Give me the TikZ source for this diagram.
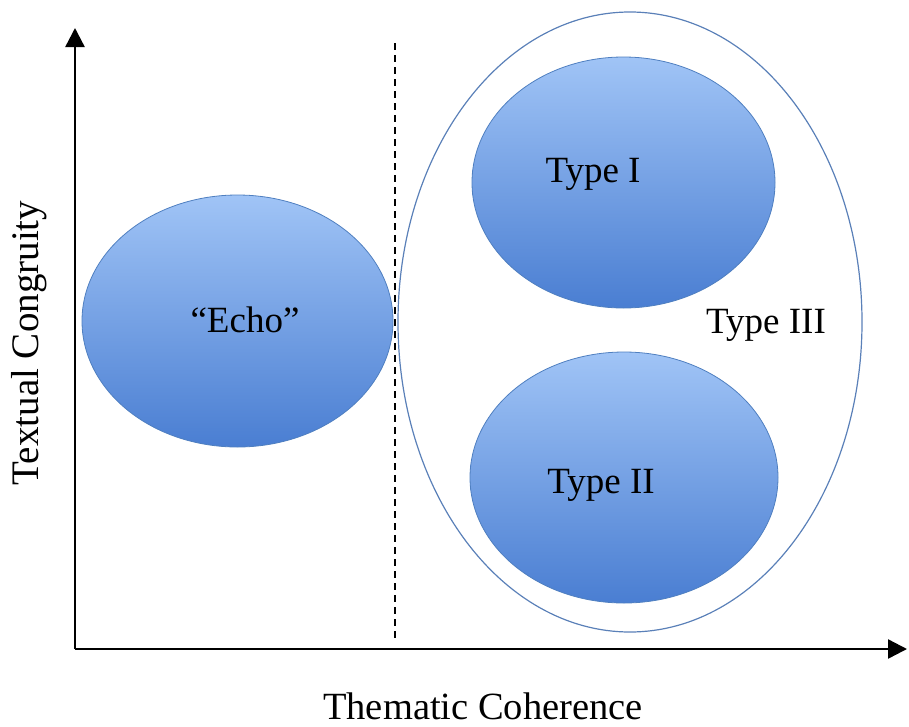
\documentclass[tikz,border=0pt]{standalone}
\usepackage{fontspec}
\setmainfont{Liberation Serif}
\usetikzlibrary{arrows.meta,shapes.geometric}
\definecolor{blobtop}{HTML}{A0C4F6}
\definecolor{blobbot}{HTML}{4A7ED2}
\definecolor{blobedge}{HTML}{4F7FC0}
\definecolor{outeredge}{HTML}{5A80B8}
\tikzset{
  blob/.style={ellipse, draw=blobedge, line width=0.8pt, top color=blobtop, bottom color=blobbot, inner sep=0pt},
  outer/.style={ellipse, draw=outeredge, line width=1.2pt, inner sep=0pt},
  axis/.style={line width=2.4pt, -{Triangle[length=19pt,width=19pt]}},
  lbl/.style={font=\fontsize{37}{40}\selectfont, anchor=base, inner sep=0pt},
}
\begin{document}
\begin{tikzpicture}[x=1pt,y=-1pt]
\useasboundingbox (0,0) rectangle (909,726);
\coordinate (origin) at (75,649);
\coordinate (ytip) at (75,28);
\coordinate (xtip) at (907,649);
\draw[axis] (origin) -- (ytip);
\draw[axis] (origin) -- (xtip);
\coordinate (dtop) at (395,43);
\coordinate (dbot) at (395,640);
\draw[line width=1.5pt, dash pattern=on 7pt off 5pt] (dtop) -- (dbot);
\node[outer, minimum width=464pt, minimum height=620pt] (t3) at (630,322) {};
\node[blob, minimum width=311pt, minimum height=252pt] (echo) at (237.5,321) {};
\node[blob, minimum width=303pt, minimum height=251pt] (t1) at (623.5,182.5) {};
\node[blob, minimum width=308pt, minimum height=251pt] (t2) at (624,477.5) {};
\node[lbl] (techo) at (245,332) {“Echo”};
\node[lbl] (tt1) at (593,182) {Type I};
\node[lbl] (tt2) at (601,493) {Type II};
\node[lbl] (tt3) at (766,333) {Type III};
\node[lbl, font=\fontsize{38.5}{40}\selectfont, text depth=0pt] (xlab) at (483,719) {Thematic Coherence};
\node[lbl, font=\fontsize{39}{42}\selectfont, rotate=90] (ylab) at (38,343) {Textual Congruity};
\end{tikzpicture}
\end{document}
